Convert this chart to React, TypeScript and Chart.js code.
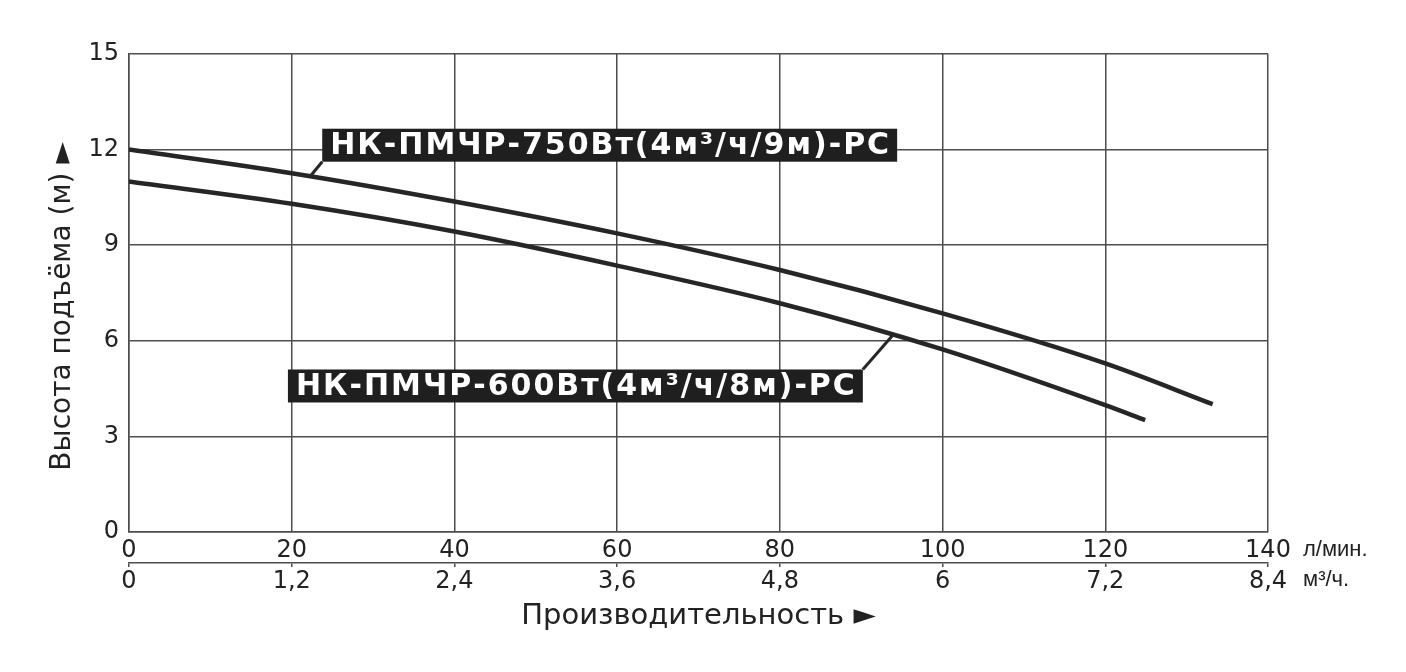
import React, { useEffect, useRef } from "react";
import { Chart, registerables } from "chart.js";

Chart.register(...registerables);

// ---- data ----
const flowLpm750 = [0, 20, 40, 60, 80, 100, 120, 133.2];
const head750 = [12, 11.26, 10.37, 9.37, 8.22, 6.86, 5.29, 4.01];
const flowLpm600 = [0, 20, 40, 60, 80, 100, 120, 124.9];
const head600 = [11, 10.3, 9.43, 8.36, 7.18, 5.73, 3.98, 3.51];
const seriesNames = ["НК-ПМЧР-750Вт(4м³/ч/9м)-РС", "НК-ПМЧР-600Вт(4м³/ч/8м)-РС"];
const headTicks = [0, 3, 6, 9, 12, 15];
const lpmTicks = [0, 20, 40, 60, 80, 100, 120, 140];
const m3hTicks = [0, 1.2, 2.4, 3.6, 4.8, 6, 7.2, 8.4];
const yTitle = "Высота подъёма (м) ►   ";
const xTitle = "Производительность ►";
const lpmUnit = "л/мин.";
const m3hUnit = "м³/ч.";

// ---- styling / layout ----
const GRID = "#4d4d4d";
const INK = "#262626";
const TEXT = "#222222";
const FONT = "'DejaVu Sans', sans-serif";

const CALLOUTS = [
  { series: 0, footX: 22.3, footY: 11.17, cornerX: 23.75, cornerY: 11.62, corner: "bottom-left" },
  { series: 1, footX: 93.9, footY: 6.18, cornerX: 90.2, cornerY: 5.1, corner: "top-right" },
];

const calloutPlugin = {
  id: "callouts",
  afterDatasetsDraw(chart: any) {
    const { ctx } = chart;
    const x = chart.scales.x;
    const y = chart.scales.y;
    ctx.save();
    ctx.font = `bold 30px ${FONT}`;
    (ctx as any).letterSpacing = "2px";
    for (const c of CALLOUTS) {
      const text = seriesNames[c.series];
      const tw = ctx.measureText(text).width;
      const boxW = tw + 14;
      const boxH = 33;
      const cx = x.getPixelForValue(c.cornerX);
      const cy = y.getPixelForValue(c.cornerY);
      let left: number, top: number;
      if (c.corner === "bottom-left") {
        left = cx;
        top = cy - boxH;
      } else {
        left = cx - boxW;
        top = cy;
      }
      ctx.strokeStyle = INK;
      ctx.lineWidth = 3;
      ctx.beginPath();
      ctx.moveTo(x.getPixelForValue(c.footX), y.getPixelForValue(c.footY));
      ctx.lineTo(cx, cy);
      ctx.stroke();
      ctx.fillStyle = "#1f1f1f";
      ctx.fillRect(left, top, boxW, boxH);
      ctx.fillStyle = "#ffffff";
      ctx.textBaseline = "middle";
      ctx.textAlign = "left";
      ctx.fillText(text, left + 8, top + boxH / 2 + 1);
    }
    ctx.restore();
  },
};

const unitPlugin = {
  id: "units",
  afterDraw(chart: any) {
    const { ctx } = chart;
    const x = chart.scales.x;
    const x2 = chart.scales.x2;
    ctx.save();
    ctx.font = `22px 'Liberation Sans', Arial, sans-serif`;
    ctx.fillStyle = TEXT;
    ctx.textAlign = "left";
    ctx.textBaseline = "middle";
    ctx.fillText(lpmUnit, x.right + 35, x.top + 18);
    ctx.fillText(m3hUnit, x2.right + 35, x2.top + 17);
    ctx.restore();
  },
};

export default function App() {
  const ref = useRef<HTMLCanvasElement>(null);
  useEffect(() => {
    Chart.defaults.font.family = FONT;
    const chart = new Chart(ref.current as HTMLCanvasElement, {
      type: "line",
      data: {
        datasets: [
          {
            label: seriesNames[0],
            data: flowLpm750.map((v, i) => ({ x: v, y: head750[i] })),
            borderColor: INK,
            borderWidth: 4.5,
            pointRadius: 0,
            fill: false,
            cubicInterpolationMode: "monotone",
            xAxisID: "x",
            yAxisID: "y",
          },
          {
            label: seriesNames[1],
            data: flowLpm600.map((v, i) => ({ x: v, y: head600[i] })),
            borderColor: INK,
            borderWidth: 4.5,
            pointRadius: 0,
            fill: false,
            cubicInterpolationMode: "monotone",
            xAxisID: "x",
            yAxisID: "y",
          },
        ],
      },
      options: {
        animation: false,
        responsive: false,
        layout: { padding: { top: 46, right: 130, left: 0, bottom: 0 } },
        plugins: { legend: { display: false }, tooltip: { enabled: false } },
        scales: {
          x: {
            type: "linear",
            position: "bottom",
            min: 0,
            max: 140,
            afterBuildTicks: (s: any) => {
              s.ticks = lpmTicks.map((v) => ({ value: v }));
            },
            afterFit: (s: any) => {
              s.height = 31;
            },
            grid: { color: GRID, lineWidth: 1.5, drawTicks: false },
            border: { color: GRID, width: 1.5 },
            ticks: { font: { size: 24 }, color: TEXT, padding: 4, maxRotation: 0, autoSkip: false },
          },
          x2: {
            type: "linear",
            position: "bottom",
            min: 0,
            max: 8.4,
            afterBuildTicks: (s: any) => {
              s.ticks = m3hTicks.map((v) => ({ value: v }));
            },
            afterFit: (s: any) => {
              s.height = 101;
            },
            grid: { drawOnChartArea: false, drawTicks: true, tickLength: 4, color: GRID, lineWidth: 1.5 },
            border: { color: GRID, width: 1.5 },
            ticks: {
              font: { size: 24 },
              color: TEXT,
              padding: 0,
              maxRotation: 0,
              autoSkip: false,
              callback: (v: any) => String(v).replace(".", ","),
            },
            title: { display: true, text: xTitle, font: { size: 29 }, color: TEXT, padding: { top: 0, bottom: 30 } },
          },
          y: {
            type: "linear",
            min: 0,
            max: 15,
            afterBuildTicks: (s: any) => {
              s.ticks = headTicks.map((v) => ({ value: v }));
            },
            afterFit: (s: any) => {
              s.width = 121;
            },
            grid: { color: GRID, lineWidth: 1.5, drawTicks: false },
            border: { color: GRID, width: 1.5 },
            ticks: { font: { size: 24 }, color: TEXT, padding: 10 },
            title: { display: true, text: yTitle, font: { size: 28 }, color: TEXT, padding: { top: 38, bottom: 0 } },
          },
        },
      } as any,
      plugins: [calloutPlugin, unitPlugin],
    });
    return () => chart.destroy();
  }, []);
  return (
    <div style={{ width: 1390, height: 656, background: "#ffffff" }}>
      <canvas ref={ref} width={1390} height={656} />
    </div>
  );
}
